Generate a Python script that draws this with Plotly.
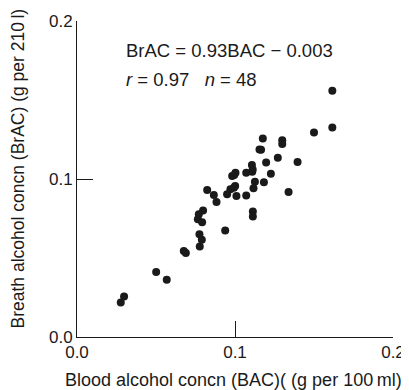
import plotly.graph_objects as go

# Blood alcohol concentration (g per 100 ml)
bac = [0.1616, 0.1616, 0.150, 0.1176, 0.1299, 0.1299, 0.1155, 0.1165,
       0.1271, 0.1197, 0.1396, 0.1107, 0.1109, 0.1071, 0.1003, 0.0982,
       0.1227, 0.1126, 0.1183, 0.1117, 0.1001, 0.0971, 0.0950, 0.1009,
       0.1071, 0.1339, 0.0824, 0.0866, 0.0883, 0.1113, 0.1113, 0.0798,
       0.0771, 0.0765, 0.0792, 0.0938, 0.0775, 0.0790, 0.0777, 0.0676,
       0.0689, 0.0501, 0.0568, 0.0298, 0.0277, 0.0995, 0.0993, 0.1112]
# Breath alcohol concentration (g per 210 l)
brac = [0.1558, 0.1326, 0.1295, 0.1257, 0.1246, 0.1221, 0.1187, 0.1185,
        0.1135, 0.1105, 0.1107, 0.1088, 0.1046, 0.1040, 0.1040, 0.1019,
        0.1034, 0.0983, 0.0979, 0.0941, 0.0956, 0.0935, 0.0903, 0.0893,
        0.0895, 0.0918, 0.0931, 0.0899, 0.0855, 0.0794, 0.0762, 0.0800,
        0.0777, 0.0745, 0.0726, 0.0674, 0.0651, 0.0615, 0.0573, 0.0545,
        0.0531, 0.0411, 0.0362, 0.0257, 0.0219, 0.1025, 0.0945, 0.1060]

tick_vals = [0.0, 0.1, 0.2]
tick_text = ["0.0", "0.1", "0.2"]

FONT = "Liberation Sans, Arial, sans-serif"
INK = "#1a1a1a"

fig = go.Figure()
fig.add_trace(go.Scatter(
    x=bac, y=brac, mode="markers",
    marker=dict(size=8, color=INK, line=dict(width=0)),
    showlegend=False, hoverinfo="skip",
))

axis_common = dict(
    range=[0, 0.2], tickvals=tick_vals, ticktext=tick_text,
    ticks="inside", ticklen=16, tickwidth=1, tickcolor=INK,
    showline=True, linecolor=INK, linewidth=1,
    showgrid=False, zeroline=False, automargin=False,
    tickfont=dict(family=FONT, size=17, color=INK),
)

fig.update_layout(
    width=409, height=390,
    margin=dict(l=69, r=24, t=13, b=61),
    paper_bgcolor="white", plot_bgcolor="white",
    font=dict(family=FONT, color=INK),
    xaxis=dict(**axis_common),
    yaxis=dict(**axis_common),
    annotations=[
        dict(text="BrAC = 0.93BAC \u2212 0.003", x=0.030, y=0.1815,
             xref="x", yref="y", xanchor="left", yanchor="middle",
             showarrow=False, font=dict(family=FONT, size=18.5, color=INK)),
        dict(text="<i>r</i> = 0.97\u00a0\u00a0\u00a0<i>n</i> = 48", x=0.030, y=0.1632,
             xref="x", yref="y", xanchor="left", yanchor="middle",
             showarrow=False, font=dict(family=FONT, size=18.5, color=INK)),
        dict(text="Blood alcohol concn (BAC)( (g per 100\u2009ml)", x=0.5, y=0,
             xref="paper", yref="paper", xanchor="center", yanchor="middle",
             yshift=-43, xshift=-2, showarrow=False,
             font=dict(family=FONT, size=18, color=INK)),
        dict(text="Breath alcohol concn (BrAC) (g per 210\u2009l)", x=0, y=0.5,
             xref="paper", yref="paper", xanchor="center", yanchor="middle",
             xshift=-59.5, yshift=10, textangle=-90, showarrow=False,
             font=dict(family=FONT, size=17.5, color=INK)),
    ],
)

fig.write_html("out.html")
